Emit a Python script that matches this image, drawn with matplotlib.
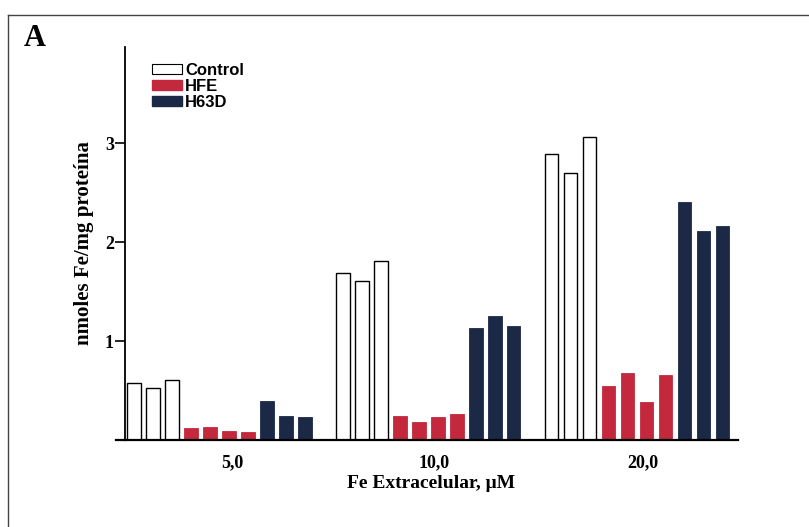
import matplotlib
matplotlib.use('Agg')
import matplotlib.pyplot as plt
import numpy as np
from matplotlib.patches import Patch
from matplotlib.lines import Line2D

# values (nmoles Fe / mg proteina)
doses = ['5,0', '10,0', '20,0']
control = [[0.58, 0.53, 0.61], [1.69, 1.61, 1.81], [2.89, 2.70, 3.06]]
hfe = [[0.12, 0.13, 0.09, 0.08], [0.24, 0.18, 0.23, 0.26], [0.55, 0.68, 0.38, 0.66]]
h63d = [[0.39, 0.24, 0.23], [1.13, 1.25, 1.15], [2.40, 2.11, 2.16]]
tick_pos = [5.2, 15.8, 26.8]

red = '#c3283d'
navy = '#1b2947'
serif = 'Liberation Serif'
sans = 'Liberation Sans'

W, H = 809, 527
fig = plt.figure(figsize=(W / 100, H / 100), dpi=100)
ax = fig.add_axes([125 / W, (H - 440) / H, (738 - 125) / W, (440 - 47) / H])

bw = 0.7
for g in range(3):
    start = 11 * g
    xc = start + np.arange(3)
    ax.bar(xc, control[g], bw, color='white', edgecolor='black', linewidth=1.0)
    xh = start + 3 + np.arange(4)
    ax.bar(xh, hfe[g], bw, color=red, edgecolor=red, linewidth=0.6)
    xd = start + 7 + np.arange(3)
    ax.bar(xd, h63d[g], bw, color=navy, edgecolor=navy, linewidth=0.6)

ax.set_xlim(-0.47, 31.8)
ax.set_ylim(0, 3.97)
ax.spines['top'].set_visible(False)
ax.spines['right'].set_visible(False)
ax.spines['left'].set_linewidth(1.3)
ax.spines['bottom'].set_linewidth(1.6)

ax.set_yticks([0, 1, 2, 3])
ax.set_yticklabels(['', '1', '2', '3'], fontfamily=serif, fontweight='bold', fontsize=13)
ax.tick_params(axis='y', length=7, width=1.2, pad=1)
ax.set_xticks(tick_pos)
ax.set_xticklabels(doses, fontfamily=serif, fontweight='bold', fontsize=13)
ax.tick_params(axis='x', length=0, pad=10)

ax.set_ylabel('nmoles Fe/mg proteína', fontfamily=serif, fontweight='bold', fontsize=15)
ax.yaxis.set_label_coords(-0.05, 0.5)
ax.set_xlabel('Fe Extracelular, \u03bcM', fontfamily=serif, fontweight='bold', fontsize=14, labelpad=3)

# baseline stub left of the y axis
ax.plot([-0.97, -0.47], [0, 0], color='black', lw=1.6, clip_on=False)

handles = [Patch(facecolor='white', edgecolor='black', linewidth=0.8),
           Patch(facecolor=red, edgecolor=red),
           Patch(facecolor=navy, edgecolor=navy)]
fig.legend(handles, ['Control', 'HFE', 'H63D'], loc='upper left',
           bbox_to_anchor=(152 / W, 1 - 63 / H), frameon=False,
           prop={'family': sans, 'weight': 'bold', 'size': 12},
           handlelength=1.8, handleheight=0.6, handletextpad=0.2,
           labelspacing=0.05, borderpad=0, borderaxespad=0)

fig.text(35 / W, 1 - 39 / H, 'A', fontfamily=serif, fontweight='bold', fontsize=22,
         ha='center', va='center')

# scanned frame
fig.add_artist(Line2D([8 / W, 8 / W], [0, 1 - 15 / H], color='#444444', lw=1.0))
fig.add_artist(Line2D([8 / W, 1], [1 - 15 / H, 1 - 15 / H], color='#444444', lw=1.0))

fig.savefig('out.png', dpi=100)
